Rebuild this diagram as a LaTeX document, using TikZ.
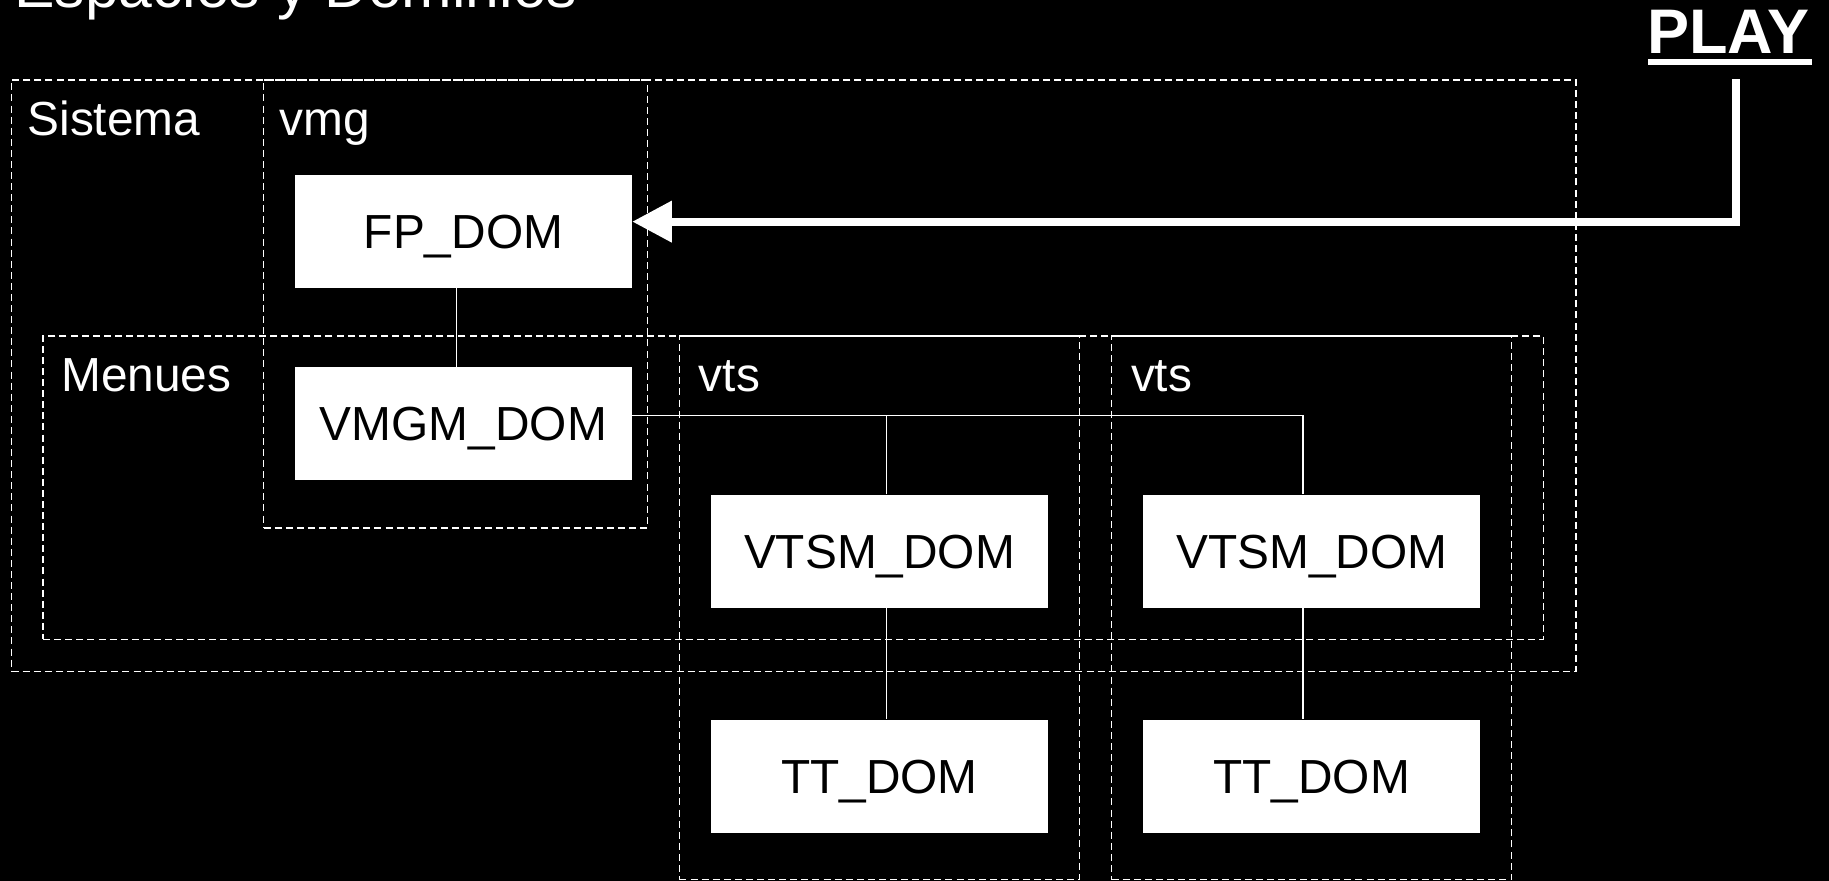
\documentclass[tikz,border=0pt]{standalone}
\usepackage{fontspec}
\setmainfont{Liberation Sans}
\usetikzlibrary{arrows.meta}

\begin{document}
\begin{tikzpicture}[x=1pt, y=-1pt,
    dom/.style={rectangle, fill=white, text=black, inner sep=0pt, minimum width=289pt, minimum height=97pt, font=\fontsize{41}{48}\selectfont, text height=29.4pt, text depth=0pt},
    region/.style={rectangle, draw=white, line width=1.2pt, dash pattern=on 6pt off 3.5pt, inner sep=0pt},
    lbl/.style={anchor=base west, text=white, inner sep=0pt, font=\fontsize{41}{48}\selectfont},
    link/.style={draw=white, line width=1.1pt},
    playarrow/.style={draw=white, line width=7pt, -{Triangle[length=34pt, width=34pt]}}
]
    \useasboundingbox (0,0) rectangle (1568,755);
    \fill[black] (0,0) rectangle (1568,755);

    % Title
    \node[anchor=base west, text=white, inner sep=0pt, font=\fontsize{52}{60}\selectfont] (title) at (12,6) {Espacios y Dominios};
    \node[anchor=base west, text=white, inner sep=0pt, font=\fontsize{54}{60}\selectfont\bfseries] (play) at (1412,45.7) {PLAY};
    \fill[white] ([xshift=1pt, yshift=-5pt]play.base west) rectangle ([xshift=2pt, yshift=-10pt]play.base east);

    % Regions
    \node[region, minimum width=1341pt, minimum height=507pt] (sistema) at (680.5,322) {};
    \node[region, minimum width=329pt, minimum height=384pt] (vmg) at (390.5,260.5) {};
    \node[region, minimum width=1286pt, minimum height=260pt] (menues) at (680,418) {};
    \node[region, minimum width=343pt, minimum height=466pt] (vtsa) at (754,521) {};
    \node[region, minimum width=343pt, minimum height=466pt] (vtsb) at (1124.5,521) {};

    \node[lbl] (sistemalbl) at ([xshift=14pt, yshift=-48.5pt]sistema.north west) {Sistema};
    \node[lbl] (vmglbl) at ([xshift=14pt, yshift=-48.5pt]vmg.north west) {vmg};
    \node[lbl] (menueslbl) at ([xshift=16pt, yshift=-48pt]menues.north west) {Menues};
    \node[lbl] (vtsalbl) at ([xshift=17pt, yshift=-48pt]vtsa.north west) {vts};
    \node[lbl] (vtsblbl) at ([xshift=17pt, yshift=-48pt]vtsb.north west) {vts};

    % Domains
    \node[dom] (fpdom) at (397.3,198.5) {FP\_DOM};
    \node[dom] (vmgmdom) at (397.3,363) {VMGM\_DOM};
    \node[dom] (vtsma) at (754,472.5) {VTSM\_DOM};
    \node[dom] (vtsmb) at (1124.5,472.5) {VTSM\_DOM};
    \node[dom] (tta) at (754,665.5) {TT\_DOM};
    \node[dom] (ttb) at (1124.5,665.5) {TT\_DOM};

    % Links
    \draw[link] ([xshift=-6pt]fpdom.south) -- ([xshift=-6pt]vmgmdom.north);
    \draw[link] ([yshift=6.5pt]vmgmdom.east) -| ([xshift=-7.5pt]vtsmb.north);
    \draw[link] ([xshift=6pt]vtsma.north) |- ([yshift=6.5pt]vmgmdom.east);
    \draw[link] ([xshift=6pt]vtsma.south) -- ([xshift=6pt]tta.north);
    \draw[link] ([xshift=-7.5pt]vtsmb.south) -- ([xshift=-7.5pt]ttb.north);

    % Play arrow
    \coordinate (playtop) at (1488,68);
    \draw[playarrow] (playtop) |- ([yshift=8.5pt]fpdom.east);
\end{tikzpicture}
\end{document}
